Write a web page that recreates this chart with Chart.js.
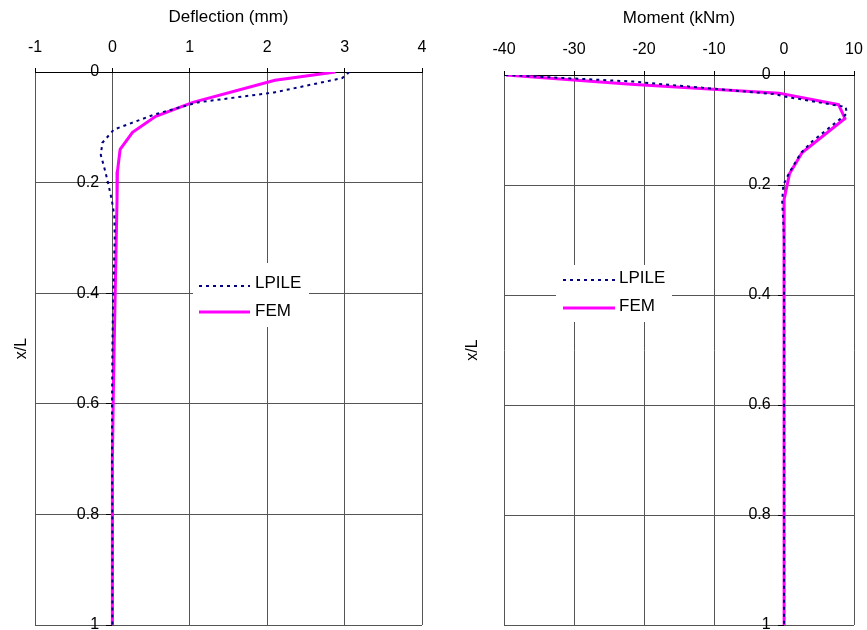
<!DOCTYPE html>
<html>
<head>
<meta charset="utf-8">
<script src="https://cdn.jsdelivr.net/npm/chart.js@4.4.1/dist/chart.umd.min.js"></script>
<style>
  html, body { margin: 0; padding: 0; background: #fff; }
  #wrap { position: relative; width: 867px; height: 630px; overflow: hidden; }
  canvas { position: absolute; top: 0; }
  #deflChart { left: 0; }
  #momentChart { left: 440px; }
</style>
</head>
<body>
<div id="wrap">
  <canvas id="deflChart" width="440" height="630"></canvas>
  <canvas id="momentChart" width="427" height="630"></canvas>
</div>
<script>
// Pile response along normalised depth x/L

// Deflection (mm)
const defDepthLPILE = [0, 0.011, 0.037, 0.055, 0.077, 0.104, 0.128, 0.15, 0.17, 0.198, 0.23, 0.26, 0.3, 0.4, 0.5, 0.6, 0.7, 0.8, 0.9, 1.0];
const defLPILE      = [3.06, 2.97, 2.09, 1.10, 0.54, 0.02, -0.13, -0.15, -0.11, -0.06, -0.01, 0.025, 0.03, 0.01, 0.0, -0.005, -0.005, 0.0, 0.0, 0.0];
const defDepthFEM   = [0, 0.015, 0.055, 0.08, 0.109, 0.14, 0.18, 0.23, 0.3, 0.4, 0.5, 0.6, 0.7, 0.8, 0.9, 1.0];
const defFEM        = [2.88, 2.10, 1.04, 0.56, 0.26, 0.10, 0.065, 0.06, 0.05, 0.036, 0.022, 0.01, 0.0, 0.0, 0.0, 0.0];

// Bending moment (kNm)
const momDepthLPILE = [0, 0.012, 0.035, 0.039, 0.058, 0.07, 0.121, 0.142, 0.179, 0.2, 0.23, 0.27, 0.3, 0.4, 0.6, 0.8, 1.0];
const momLPILE      = [-39.8, -21.5, -1.2, 0.0, 8.8, 9.0, 4.0, 2.4, 0.7, -0.1, -0.26, -0.1, 0.0, 0.0, 0.0, 0.0, 0.0];
const momDepthFEM   = [0, 0.017, 0.033, 0.054, 0.079, 0.141, 0.179, 0.227, 0.3, 0.4, 0.6, 0.8, 1.0];
const momFEM        = [-39.7, -21.9, -0.7, 7.8, 8.7, 2.6, 0.8, 0.0, 0.05, 0.05, 0.0, 0.0, 0.0];

// Tick labels
const depthTicks  = [0, 0.2, 0.4, 0.6, 0.8, 1];
const deflTicks   = [-1, 0, 1, 2, 3, 4];
const momentTicks = [-40, -30, -20, -10, 0, 10];

Chart.defaults.font.family = '"Liberation Sans", Arial, sans-serif';
Chart.defaults.color = '#000';

const GRID = '#555';

function pts(xs, depths) {
  return xs.map((v, i) => ({ x: v, y: depths[i] }));
}

// Legend drawn in a white box inside the plot area
const insideLegend = {
  id: 'insideLegend',
  afterDraw(chart, args, o) {
    const { ctx, chartArea } = chart;
    const bx = chartArea.left + o.left;
    const by = chartArea.top + o.top;
    ctx.save();
    ctx.fillStyle = '#fff';
    ctx.fillRect(bx, by, o.width, o.height);
    chart.data.datasets.forEach((ds, i) => {
      const row = o.rows[i];
      ctx.beginPath();
      ctx.strokeStyle = ds.borderColor;
      ctx.lineWidth = ds.borderWidth;
      ctx.setLineDash(ds.borderDash || []);
      ctx.moveTo(bx + o.lineStart, by + row.line);
      ctx.lineTo(bx + o.lineEnd, by + row.line);
      ctx.stroke();
      ctx.setLineDash([]);
      ctx.fillStyle = '#000';
      ctx.font = '17px "Liberation Sans", Arial, sans-serif';
      ctx.textAlign = 'left';
      ctx.textBaseline = 'middle';
      ctx.fillText(ds.label, bx + o.textX, by + row.text);
    });
    ctx.restore();
  }
};

function makeChart(id, cfg) {
  return new Chart(document.getElementById(id), {
    type: 'scatter',
    data: {
      datasets: [
        {
          label: 'LPILE',
          data: cfg.lpile,
          showLine: true,
          borderColor: '#000080',
          borderWidth: 2,
          borderDash: [3, 4],
          pointRadius: 0,
          fill: false
        },
        {
          label: 'FEM',
          data: cfg.fem,
          showLine: true,
          borderColor: '#ff00ff',
          borderWidth: 3,
          pointRadius: 0,
          fill: false
        }
      ]
    },
    options: {
      responsive: false,
      devicePixelRatio: 1,
      animation: false,
      events: [],
      layout: { padding: { left: 0, right: cfg.padRight, top: 0, bottom: 5 } },
      plugins: {
        legend: { display: false },
        tooltip: { enabled: false },
        insideLegend: cfg.legend
      },
      scales: {
        x: {
          type: 'linear',
          position: 'top',
          min: cfg.xTicks[0],
          max: cfg.xTicks[cfg.xTicks.length - 1],
          afterBuildTicks: s => { s.ticks = cfg.xTicks.map(v => ({ value: v })); },
          afterFit: s => {
            s.height = cfg.top;
            s.paddingLeft = 0; s.paddingRight = 0;
          },
          grid: { color: GRID, lineWidth: 1, tickLength: 4, tickColor: '#000' },
          border: { display: true, color: '#000', width: 1 },
          ticks: { padding: cfg.tickPad, font: { size: 16 }, color: '#000', callback: v => String(v) },
          title: {
            display: true,
            text: cfg.xTitle,
            color: '#000',
            font: { size: 17 },
            padding: { top: cfg.titlePad, bottom: 0 }
          }
        },
        y: {
          type: 'linear',
          reverse: true,
          min: 0,
          max: 1,
          position: { x: 0 },
          afterBuildTicks: s => { s.ticks = depthTicks.map(v => ({ value: v })); },
          afterFit: s => {
            s.paddingTop = 0; s.paddingBottom = 0;
            s.paddingLeft = 0; s.paddingRight = 0;
          },
          grid: {
            color: c => (c.tick && c.tick.value === 0 ? '#000' : GRID),
            lineWidth: 1,
            tickLength: 6,
            tickColor: '#000'
          },
          border: { display: false },
          // labels sit left of the zero line, clear of the tick marks
          ticks: { padding: 0, font: { size: 16 }, color: '#000', callback: v => String(v) + '   ' }
        },
        yTitle: {
          axis: 'y',
          type: 'linear',
          position: 'left',
          min: 0,
          max: 1,
          afterFit: s => { s.width = cfg.left; },
          grid: { display: false },
          border: { display: false },
          ticks: { display: false },
          title: {
            display: true,
            text: 'x/L',
            color: '#000',
            font: { size: 16 },
            padding: { top: cfg.yTitlePad, bottom: 0 }
          }
        }
      }
    },
    plugins: [insideLegend]
  });
}

makeChart('deflChart', {
  lpile: pts(defLPILE, defDepthLPILE),
  fem: pts(defFEM, defDepthFEM),
  xTicks: deflTicks,
  xTitle: 'Deflection (mm)',
  left: 35,
  padRight: 18,
  top: 72,
  tickPad: 11,
  titlePad: 7,
  yTitlePad: 12,
  legend: {
    left: 158, top: 191, width: 116, height: 64,
    lineStart: 6, lineEnd: 57, textX: 62,
    rows: [{ line: 23, text: 20 }, { line: 49, text: 48 }]
  }
});

makeChart('momentChart', {
  lpile: pts(momLPILE, momDepthLPILE),
  fem: pts(momFEM, momDepthFEM),
  xTicks: momentTicks,
  xTitle: 'Moment (kNm)',
  left: 64,
  padRight: 13,
  top: 75,
  tickPad: 12,
  titlePad: 8,
  yTitlePad: 23,
  legend: {
    left: 52, top: 190, width: 116, height: 57,
    lineStart: 7, lineEnd: 59, textX: 63,
    rows: [{ line: 15, text: 13 }, { line: 43, text: 41 }]
  }
});
</script>
</body>
</html>
